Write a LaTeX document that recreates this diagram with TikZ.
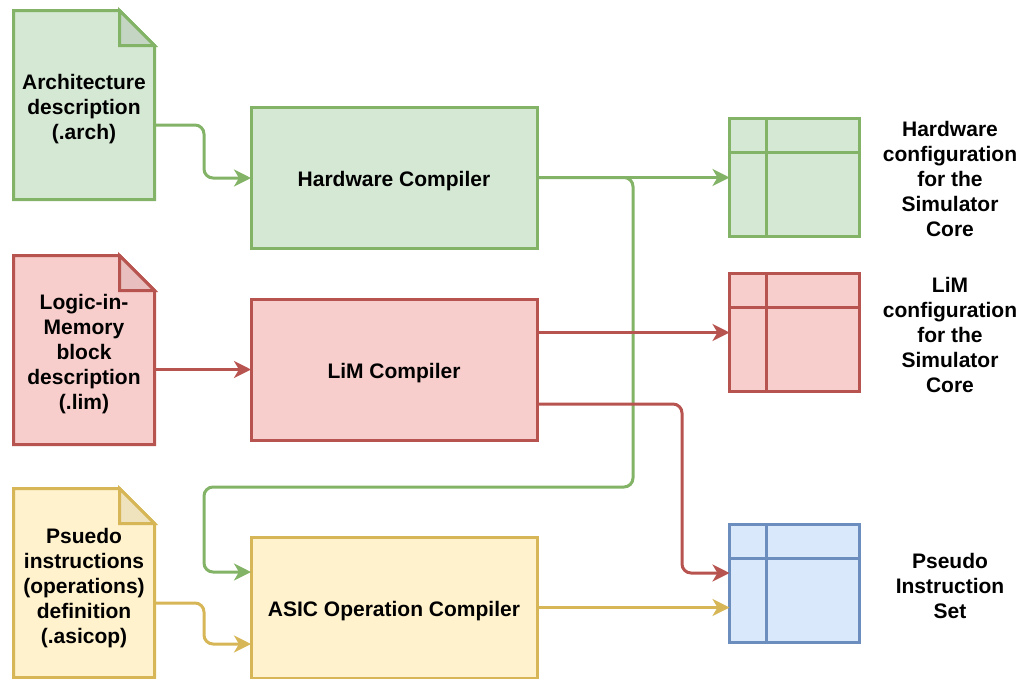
\documentclass[tikz,border=0pt]{standalone}
\usepackage{fontspec}
\setmainfont{Liberation Sans}
\usetikzlibrary{arrows.meta,backgrounds}

\definecolor{gfill}{HTML}{D5E8D4}\definecolor{gline}{HTML}{82B366}\definecolor{gfold}{HTML}{C4D6C3}
\definecolor{rfill}{HTML}{F8CECC}\definecolor{rline}{HTML}{B85450}\definecolor{rfold}{HTML}{E8BFBE}
\definecolor{yfill}{HTML}{FFF2CC}\definecolor{yline}{HTML}{D6B656}\definecolor{yfold}{HTML}{EFE3BE}
\definecolor{bfill}{HTML}{DAE8FC}\definecolor{bline}{HTML}{6C8EBF}

% folded-corner document outline behind a named node
\newcommand\notebg[2]{%
  \filldraw[fill=#2fill, draw=#2line, line width=3pt]
    (#1.north west) -- ([xshift=-35pt]#1.north east) -- ([yshift=-35pt]#1.north east)
    -- (#1.south east) -- (#1.south west) -- cycle;
  \filldraw[fill=#2fold, draw=#2line, line width=3pt]
    ([xshift=-35pt]#1.north east) -- ([xshift=-35pt,yshift=-35pt]#1.north east)
    -- ([yshift=-35pt]#1.north east) -- cycle;}

\begin{document}
\begin{tikzpicture}[x=1pt,y=-1pt,
  lbl/.style={font=\fontsize{21}{25}\selectfont\bfseries, align=center},
  doc/.style={minimum width=141pt, minimum height=189pt, inner sep=0pt, outer sep=0pt},
  box/.style={lbl, draw=#1line, fill=#1fill, line width=3pt, minimum width=286pt,
    minimum height=141pt, inner sep=0pt, outer sep=0pt, text height=20pt, text depth=2pt},
  tablebox/.style={draw=#1line, fill=#1fill, line width=3pt, minimum width=130pt,
    minimum height=118pt, inner sep=0pt, outer sep=0pt,
    path picture={\draw[#1line, line width=3pt]
      ([xshift=37pt]path picture bounding box.north west) -- ([xshift=37pt]path picture bounding box.south west)
      ([yshift=-34pt]path picture bounding box.north west) -- ([yshift=-34pt]path picture bounding box.north east);}},
  conn/.style={draw=#1line, line width=3pt, rounded corners=9pt,
    -{Stealth[length=17pt,width=17pt,inset=5pt]}}]
\useasboundingbox (0,0) rectangle (1023,678);

% input documents
\node[doc] (archdoc) at (84,105) {};
\node[doc] (limdoc) at (84,350) {};
\node[doc] (asicdoc) at (84,583) {};
\begin{scope}[on background layer]
  \notebg{archdoc}{g}
  \notebg{limdoc}{r}
  \notebg{asicdoc}{y}
\end{scope}
\node[lbl] (archtxt) at (84,109.5) {Architecture\\description\\(.arch)};
\node[lbl] (limtxt) at (84,354.5) {Logic-in-\\Memory\\block\\description\\(.lim)};
\node[lbl] (asictxt) at (84,588) {Psuedo\\instructions\\(operations)\\definition\\(.asicop)};

% compilers
\node[box=g] (hwc) at (394,177.5) {Hardware Compiler};
\node[box=r] (limc) at (394,369.5) {LiM Compiler};
\node[box=y] (asicc) at (394,607.5) {ASIC Operation Compiler};

% outputs
\node[tablebox=g] (hwtab) at (794.5,177.5) {};
\node[tablebox=r] (limtab) at (794.5,332.5) {};
\node[tablebox=b] (pstab) at (794.5,583) {};

\node[lbl] (hwlbl) at (950,179) {Hardware\\configuration\\for the\\Simulator\\Core};
\node[lbl] (limlbl) at (950,335) {LiM\\configuration\\for the\\Simulator\\Core};
\node[lbl] (pslbl) at (950,586) {Pseudo\\Instruction\\Set};

% connectors
\draw[conn=g] (archdoc.east |- 0,125) -| (204,178) -- (hwc.west |- 0,178);
\draw[conn=g] (hwc.east) -- (hwtab.west);
\draw[conn=g] (hwc.east) -| (633,487) -| (204,572) -- (asicc.west |- 0,572);
\draw[conn=r] (limdoc.east |- limc.west) -- (limc.west);
\draw[conn=r] (limc.east |- limtab.west) -- (limtab.west);
\draw[conn=r] (limc.east |- 0,404) -| (682,573) -- (pstab.west |- 0,573);
\draw[conn=y] (asicdoc.east |- 0,603) -| (204,644) -- (asicc.west |- 0,644);
\draw[conn=y] (asicc.east) -- (pstab.west |- asicc.east);
\end{tikzpicture}
\end{document}
